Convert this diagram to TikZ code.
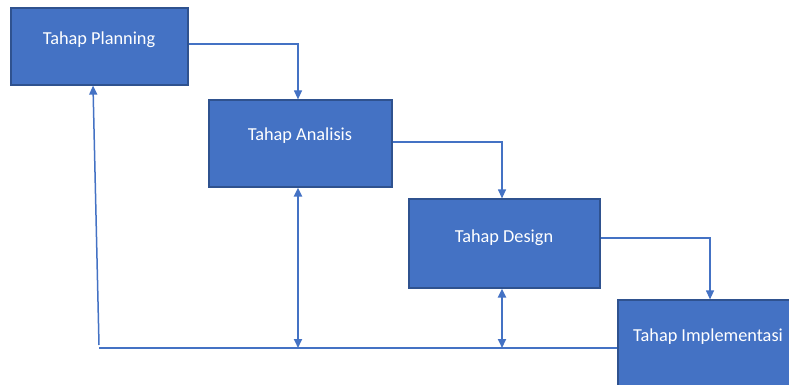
\documentclass[tikz,border=0pt]{standalone}
\usepackage{fontspec}
\setmainfont{Carlito}
\usetikzlibrary{arrows.meta}
\definecolor{boxfill}{HTML}{4472C4}
\definecolor{boxline}{HTML}{2F528F}
\definecolor{flow}{HTML}{4472C4}
\begin{document}
\begin{tikzpicture}[x=1pt,y=-1pt,
  stage/.style={draw=boxline,line width=1.2pt,fill=boxfill,inner sep=0pt},
  stagetext/.style={text=white,font=\fontsize{18.3}{22}\selectfont,inner sep=0pt},
  flowline/.style={draw=flow,line width=1.2pt,-{Triangle[length=9pt,width=8pt]}},
  backline/.style={draw=flow,line width=2pt,{Triangle[length=9pt,width=8pt]}-{Triangle[length=9pt,width=8pt]}},
  baseline/.style={draw=flow,line width=1.2pt}]
\useasboundingbox (0,0) rectangle (789,385);
\clip (0,0) rectangle (789,385);

% stage boxes
\node[stage,minimum width=177pt,minimum height=77pt] (plan) at (99.5,46.5) {};
\node[stage,minimum width=183pt,minimum height=87pt] (anal) at (300.5,143.5) {};
\node[stage,minimum width=191pt,minimum height=89pt] (desg) at (504.5,243.5) {};
\node[stage,minimum width=182pt,minimum height=92pt] (impl) at (709,346) {};

% stage titles
\node[stagetext] (planT) at (99,40) {Tahap Planning};
\node[stagetext] (analT) at (300,136) {Tahap Analisis};
\node[stagetext] (desgT) at (504,238) {Tahap Design};
\node[stagetext] (implT) at (708,337) {Tahap Implementasi};

% forward flow
\draw[flowline] (plan.east |- 0,44) -| (anal.north -| 298,0);
\draw[flowline] (anal.east |- 0,142) -| (desg.north -| 502,0);
\draw[flowline] (desg.east |- 0,238) -| (impl.north -| 710,0);

% return path along the bottom
\coordinate (corner) at (99,348);
\coordinate (cornerTop) at (99,345);
\coordinate (analFoot) at (298,348);
\coordinate (desgFoot) at (502,348);
\draw[baseline] (corner) -- (impl.west |- corner);
\draw[flowline,line width=1.5pt] (cornerTop) -- (plan.south -| 93,0);
\draw[backline] (anal.south -| analFoot) -- (analFoot);
\draw[backline] (desg.south -| desgFoot) -- (desgFoot);
\end{tikzpicture}
\end{document}
